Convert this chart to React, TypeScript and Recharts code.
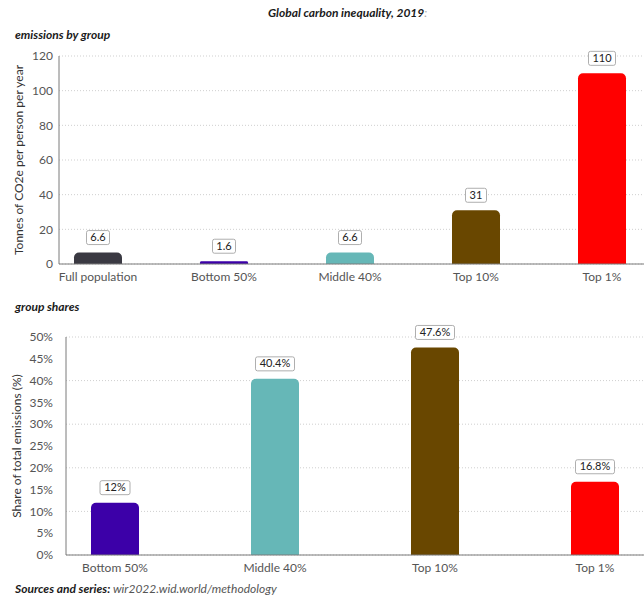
import React from "react";
import { Bar, BarChart, CartesianGrid, Cell, LabelList, XAxis, YAxis } from "recharts";

// emissions per person, by group (tCO2e / year)
const emissionGroups = ["Full population", "Bottom 50%", "Middle 40%", "Top 10%", "Top 1%"];
const tonnesPerPerson = [6.6, 1.6, 6.6, 31, 110];
const emissionColors = ["#3a3942", "#3c00a8", "#66b7b7", "#694700", "#ff0000"];
const tonnesTicks = [0, 20, 40, 60, 80, 100, 120];

// share of total emissions, by group (%)
const shareGroups = ["Bottom 50%", "Middle 40%", "Top 10%", "Top 1%"];
const sharePct = [12, 40.4, 47.6, 16.8];
const shareColors = ["#3c00a8", "#66b7b7", "#694700", "#ff0000"];
const shareTicks = [0, 5, 10, 15, 20, 25, 30, 35, 40, 45, 50];

const FONT = "Lato, 'Open Sans', sans-serif";

const emissionData = emissionGroups.map((group, i) => ({ group, value: tonnesPerPerson[i] }));
const shareData = shareGroups.map((group, i) => ({ group, value: sharePct[i] }));

let measureCtx: CanvasRenderingContext2D | null = null;
function textWidth(text: string) {
  if (!measureCtx) measureCtx = document.createElement("canvas").getContext("2d");
  if (!measureCtx) return text.length * 6;
  measureCtx.font = `11px ${FONT}`;
  return measureCtx.measureText(text).width;
}

// value tag: small rounded box sitting above the bar
function ValueTag(props: any) {
  const { x, y, width, value, suffix } = props;
  const text = `${value}${suffix || ""}`;
  const w = Math.round(textWidth(text) + 8);
  const h = 14;
  const cx = x + width / 2;
  const bottom = y - 8;
  return (
    <g>
      <rect x={cx - w / 2} y={bottom - h} width={w} height={h} rx={2} fill="#fff" stroke="#9a9a9a" strokeWidth={0.8} />
      <text x={cx} y={bottom - 3.5} textAnchor="middle" fontSize={11} fontFamily={FONT} fill="#222">
        {text}
      </text>
    </g>
  );
}

const heading: React.CSSProperties = {
  position: "absolute",
  fontFamily: FONT,
  fontStyle: "italic",
  fontWeight: 700,
  fontSize: 12,
  lineHeight: "14px",
  color: "#1a1a1a",
  whiteSpace: "nowrap",
};

const tickStyle = { fontSize: 12, fill: "#555", fontFamily: FONT };

export default function App() {
  return (
    <div style={{ position: "relative", width: 644, height: 597, background: "#fff", overflow: "hidden" }}>
      <style>{`body{margin:0}`}</style>
      <div style={{ ...heading, left: 268, top: 6 }}>
        Global carbon inequality, 2019<span style={{ color: "#aaa", fontWeight: 400 }}>:</span>
      </div>
      <div style={{ ...heading, left: 15, top: 28 }}>emissions by group</div>

      <div style={{ position: "absolute", left: 0, top: 0 }}>
        <BarChart width={644} height={300} data={emissionData} margin={{ top: 56, right: 0, bottom: 0, left: 0 }}>
          <CartesianGrid vertical={false} stroke="#cfcfcf" strokeDasharray="1 2" />
          <XAxis
            dataKey="group"
            tickLine={false}
            axisLine={{ stroke: "#7a7a7a" }}
            tick={tickStyle}
            height={36}
            interval={0}
            padding={{ left: -24, right: -21 }}
          />
          <YAxis
            width={59}
            domain={[0, 120]}
            ticks={tonnesTicks}
            tickLine={false}
            tickSize={4}
            tickMargin={2}
            axisLine={{ stroke: "#7a7a7a" }}
            tick={tickStyle}
            label={{
              value: "Tonnes of CO2e per person per year",
              angle: -90,
              position: "insideLeft",
              offset: 19,
              style: { textAnchor: "middle", fontSize: 12, fill: "#333", fontFamily: FONT },
            }}
          />
          <Bar dataKey="value" barSize={48} radius={[5, 5, 0, 0]} isAnimationActive={false}>
            {emissionData.map((d, i) => (
              <Cell key={d.group} fill={emissionColors[i]} />
            ))}
            <LabelList dataKey="value" content={(p: any) => <ValueTag {...p} />} />
          </Bar>
        </BarChart>
      </div>

      <div style={{ ...heading, left: 15, top: 300 }}>group shares</div>

      <div style={{ position: "absolute", left: 0, top: 300 }}>
        <BarChart width={644} height={290} data={shareData} margin={{ top: 37, right: 0, bottom: 0, left: 0 }}>
          <CartesianGrid vertical={false} stroke="#cfcfcf" strokeDasharray="1 2" />
          <XAxis
            dataKey="group"
            tickLine={false}
            axisLine={{ stroke: "#7a7a7a" }}
            tick={tickStyle}
            height={35}
            interval={0}
            padding={{ left: -31, right: -31 }}
          />
          <YAxis
            width={66}
            domain={[0, 50]}
            ticks={shareTicks}
            tickFormatter={(v: number) => `${v}%`}
            tickLine={false}
            tickSize={6}
            tickMargin={7}
            axisLine={{ stroke: "#7a7a7a" }}
            tick={tickStyle}
            label={{
              value: "Share of total emissions (%)",
              angle: -90,
              position: "insideLeft",
              offset: 17,
              style: { textAnchor: "middle", fontSize: 12, fill: "#333", fontFamily: FONT },
            }}
          />
          <Bar dataKey="value" barSize={48} radius={[5, 5, 0, 0]} isAnimationActive={false}>
            {shareData.map((d, i) => (
              <Cell key={d.group} fill={shareColors[i]} />
            ))}
            <LabelList dataKey="value" content={(p: any) => <ValueTag {...p} suffix="%" />} />
          </Bar>
        </BarChart>
      </div>

      <div style={{ ...heading, left: 15, top: 582 }}>
        Sources and series: <span style={{ fontWeight: 400, color: "#555" }}>wir2022.wid.world/methodology</span>
      </div>
    </div>
  );
}
